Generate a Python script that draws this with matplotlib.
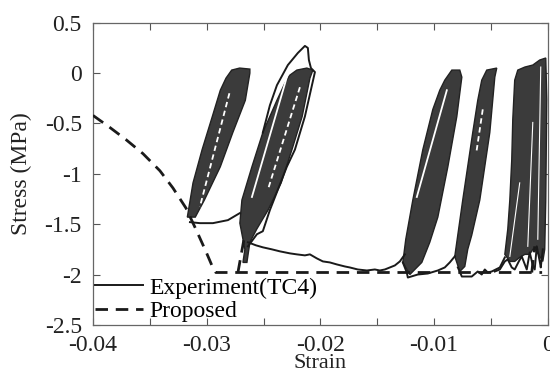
import matplotlib.pyplot as plt
from matplotlib.lines import Line2D
from matplotlib.ticker import MultipleLocator

plt.rcParams['font.family'] = ['Liberation Serif', 'DejaVu Serif']
plt.rcParams['axes.unicode_minus'] = False

# proposed model, monotonic envelope
prop_strain = [-0.0400, -0.03851, -0.03710, -0.03560, -0.03411, -0.03297, -0.03182,
               -0.03095, -0.03007, -0.02954, -0.02919, -0.0005]
prop_stress = [-0.42, -0.54, -0.66, -0.80, -0.97, -1.14, -1.34,
               -1.55, -1.77, -1.91, -1.98, -1.98]

# proposed reloading branches peeking out below the loops
reload1_strain = [-0.02725, -0.02664]
reload1_stress = [-1.98, -1.60]
reload2_strain = [-0.00141, -0.00115]
reload2_stress = [-1.98, -1.72]

# experiment: dense cyclic loops (outline of each loop cluster)
loop1_strain = [-0.0317, -0.0312, -0.0304, -0.0295, -0.0288, -0.0283, -0.0278, -0.0271,
                -0.0262, -0.0262, -0.0266, -0.0277, -0.0288, -0.0302, -0.0310]
loop1_stress = [-1.43, -1.09, -0.76, -0.43, -0.17, -0.05, 0.03, 0.05,
                0.04, 0.00, -0.27, -0.59, -0.93, -1.26, -1.43]

loop2_strain = [-0.02681, -0.02664, -0.02708, -0.02690, -0.02602, -0.02506, -0.02382, -0.02312,
                -0.02268, -0.02207, -0.02119, -0.02066, -0.02092, -0.02160, -0.02250, -0.02345,
                -0.02460, -0.02560, -0.02620, -0.02646]
loop2_stress = [-1.88, -1.75, -1.49, -1.26, -0.93, -0.59, -0.27, -0.10,
                -0.02, 0.03, 0.05, 0.03, -0.05, -0.43, -0.76, -1.09,
                -1.36, -1.55, -1.68, -1.88]

loop3_strain = [-0.01275, -0.01249, -0.01187, -0.01099, -0.01011, -0.00950, -0.00906, -0.00844,
                -0.00774, -0.00756, -0.00800, -0.00879, -0.00967, -0.01038, -0.01108, -0.01213]
loop3_stress = [-1.88, -1.65, -1.26, -0.76, -0.36, -0.17, -0.07, 0.03,
                0.03, -0.04, -0.43, -0.93, -1.43, -1.68, -1.88, -2.00]

loop4_strain = [-0.00818, -0.00748, -0.00660, -0.00616, -0.00581, -0.00537, -0.00449, -0.00466,
                -0.00510, -0.00598, -0.00669, -0.00704, -0.00730, -0.00774]
loop4_stress = [-1.82, -1.26, -0.59, -0.27, -0.07, 0.03, 0.05, -0.04,
                -0.59, -1.26, -1.61, -1.75, -1.92, -1.97]

loop5_strain = [-0.00378, -0.00352, -0.00334, -0.00317, -0.00308, -0.00291, -0.00264, -0.00202,
                -0.00132, -0.00071, -0.00018, -0.00009, -0.00018, -0.00027, -0.00044, -0.00097,
                -0.00132, -0.00159, -0.00202, -0.00247, -0.00291, -0.00334]
loop5_stress = [-1.80, -1.55, -1.26, -0.86, -0.46, -0.07, 0.03, 0.06,
                0.08, 0.13, 0.15, -0.26, -1.26, -1.75, -1.87, -1.77,
                -1.75, -1.80, -1.80, -1.83, -1.87, -1.87]

# single large cycle around -0.022 that overshoots to +0.27 MPa
peak_strain = [-0.02506, -0.02444, -0.02382, -0.02286, -0.02198, -0.02136, -0.02110, -0.02101,
               -0.02083, -0.02048, -0.02136, -0.02224, -0.02295, -0.02444, -0.02506, -0.02558, -0.02637]
peak_stress = [-0.59, -0.32, -0.12, 0.08, 0.20, 0.27, 0.25, 0.13,
               0.05, 0.01, -0.43, -0.76, -0.93, -1.36, -1.57, -1.60, -1.72]

# unloading branches between loop clusters
path1_strain = [-0.03147, -0.03059, -0.02945, -0.02813, -0.02708]
path1_stress = [-1.48, -1.49, -1.49, -1.46, -1.39]

path2_strain = [-0.02637, -0.02567, -0.02506, -0.02427, -0.02356, -0.02268, -0.02207, -0.02136,
                -0.02092, -0.02031, -0.01978, -0.01917, -0.01855, -0.01785, -0.01741, -0.01671,
                -0.01591, -0.01521, -0.01477, -0.01433, -0.01389, -0.01345, -0.01301, -0.01257]
path2_stress = [-1.68, -1.71, -1.73, -1.75, -1.77, -1.79, -1.80, -1.81,
                -1.80, -1.84, -1.87, -1.88, -1.90, -1.92, -1.93, -1.95,
                -1.96, -1.95, -1.96, -1.95, -1.93, -1.91, -1.87, -1.80]

path3_strain = [-0.01275, -0.01240, -0.01231, -0.01143, -0.01055, -0.00967, -0.00906, -0.00862, -0.00818]
path3_stress = [-1.88, -1.98, -2.03, -2.00, -1.99, -1.96, -1.93, -1.88, -1.82]

path4_strain = [-0.00791, -0.00756, -0.00669, -0.00616, -0.00581, -0.00554, -0.00528, -0.00493,
                -0.00422, -0.00378]
path4_stress = [-1.93, -2.02, -2.02, -1.97, -2.00, -1.95, -1.98, -1.97,
                -1.93, -1.83]

path5_strain = [-0.00466, -0.00422, -0.00378, -0.00352, -0.00317, -0.00291, -0.00255, -0.00229,
                -0.00202, -0.00185, -0.00159, -0.00132, -0.00115, -0.00097, -0.00071, -0.00062, -0.00044]
path5_stress = [-1.97, -1.95, -1.87, -1.85, -1.93, -1.95, -1.87, -1.82,
                -1.90, -1.95, -1.78, -1.91, -1.95, -1.72, -1.87, -1.93, -1.75]

# light gaps between overlapping cycles inside the clusters: (strain, stress, style, width)
gaps = [
    ([-0.0280, -0.0306], [-0.20, -1.33], '--', 1.3),
    ([-0.02295, -0.02602], [-0.04, -1.23], '-', 1.3),
    ([-0.02180, -0.02462], [-0.14, -1.16], '--', 1.3),
    ([-0.00888, -0.01152], [-0.17, -1.23], '-', 1.3),
    ([-0.00572, -0.00630], [-0.36, -0.80], '--', 1.3),
    ([-0.00247, -0.00334], [-1.09, -1.82], '-', 0.8),
    ([-0.00132, -0.00176], [-0.49, -1.72], '-', 0.8),
    ([-0.00062, -0.00088], [0.06, -1.65], '-', 0.8),
]

xtick_vals = [-0.04, -0.03, -0.02, -0.01, 0.0]
xtick_labels = ['-0.04', '-0.03', '-0.02', '-0.01', '0']
ytick_vals = [0.5, 0.0, -0.5, -1.0, -1.5, -2.0, -2.5]
ytick_labels = ['0.5', '0', '-0.5', '-1', '-1.5', '-2', '-2.5']

fs = 17
loop_color = '#3b3b3b'

fig = plt.figure(figsize=(5.5, 3.7), dpi=100)
ax = fig.add_axes([0.169, 0.122, 0.827, 0.8165])

for lx, ly in [(loop1_strain, loop1_stress), (loop2_strain, loop2_stress),
               (loop3_strain, loop3_stress), (loop4_strain, loop4_stress),
               (loop5_strain, loop5_stress)]:
    ax.fill(lx, ly, facecolor=loop_color, edgecolor='#222222', linewidth=1.0, zorder=2)

for gx, gy, ls, lw in gaps:
    if ls == '--':
        ax.plot(gx, gy, color='white', linewidth=lw, linestyle='--', dashes=(3, 2), zorder=3)
    else:
        ax.plot(gx, gy, color='white', linewidth=lw, zorder=3)

exp_kw = dict(color='#1a1a1a', linewidth=1.4, zorder=3)
ax.plot(peak_strain, peak_stress, **exp_kw)
for sx, sy in [(path1_strain, path1_stress), (path2_strain, path2_stress),
               (path3_strain, path3_stress), (path4_strain, path4_stress),
               (path5_strain, path5_stress)]:
    ax.plot(sx, sy, **exp_kw)

prop_kw = dict(color='#1a1a1a', linewidth=2.0, linestyle='--', dashes=(4.5, 2.8), zorder=4)
ax.plot(prop_strain, prop_stress, **prop_kw)
ax.plot(reload1_strain, reload1_stress, **prop_kw)
ax.plot(reload2_strain, reload2_stress, **prop_kw)

ax.set_xlim(-0.04, 0)
ax.set_ylim(-2.5, 0.5)
ax.set_xticks(xtick_vals, labels=xtick_labels)
ax.set_yticks(ytick_vals, labels=ytick_labels)
ax.xaxis.set_minor_locator(MultipleLocator(0.005))
ax.tick_params(which='both', direction='in', top=True, right=True, length=5,
               width=0.8, color='#555555', labelsize=fs, labelcolor='#222222')
ax.tick_params(axis='x', pad=7)
ax.tick_params(axis='y', pad=8)
for sp in ax.spines.values():
    sp.set_color('#666666')
    sp.set_linewidth(0.9)

ax.set_xlabel('Strain', fontsize=16, labelpad=-1, color='#222222')
ax.set_ylabel('Stress (MPa)', fontsize=fs, labelpad=9, color='#222222')

handles = [Line2D([], [], **exp_kw), Line2D([], [], **prop_kw)]
ax.legend(handles, ['Experiment(TC4)', 'Proposed'], loc='lower left', frameon=False,
          fontsize=fs, handlelength=2.0, handletextpad=0.3, labelspacing=0.1,
          borderaxespad=0.05, borderpad=0.05)

fig.savefig('out.png', dpi=100)
